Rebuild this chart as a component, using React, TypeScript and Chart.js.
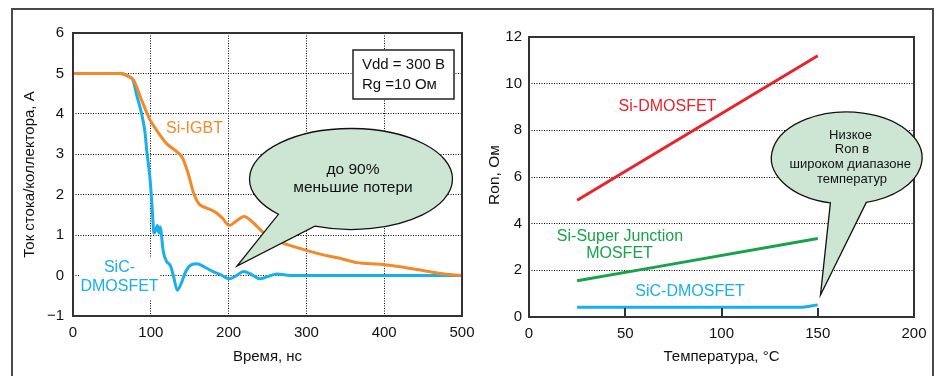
import React, { useEffect, useRef } from 'react';
import { Chart, registerables } from 'chart.js';
Chart.register(...registerables);

const FONT = "'Liberation Sans', Arial, sans-serif";
const ORANGE = '#F28A2A';
const BLUE = '#19AFE8';
const RED = '#E8232B';
const GREEN = '#18A24C';
const BUBBLE = '#CDE6D4';
const INK = '#111111';

// ---- Left chart: switching current vs time ----
const igbtTime = [0, 60, 66, 72, 78, 88, 99, 108, 120, 133, 140, 148, 155, 162, 172, 180, 185, 192, 201, 210, 220, 232, 245, 258, 270, 292, 318, 340, 365, 395, 420, 442, 472, 500];
const igbtCurrent = [5, 5, 4.98, 4.92, 4.83, 4.35, 3.85, 3.58, 3.27, 3.07, 2.94, 2.53, 2.04, 1.77, 1.67, 1.6, 1.54, 1.42, 1.24, 1.35, 1.46, 1.3, 1.06, 0.92, 0.8, 0.67, 0.53, 0.44, 0.32, 0.28, 0.22, 0.15, 0.05, 0];
const sicTime = [0, 60, 66, 72, 77, 82, 88, 92.5, 95, 99, 102, 104, 106, 108.5, 110.5, 112, 116, 120, 125, 129, 134, 139, 144, 150, 159, 170, 180, 190, 201, 210, 219, 230, 240, 251, 262, 280, 500];
const sicCurrent = [5, 5, 4.98, 4.92, 4.84, 4.45, 4.02, 3.55, 3.05, 2.4, 1.6, 1.05, 1.1, 1.24, 1.05, 1.2, 0.6, 0.36, 0.25, 0.0, -0.36, -0.2, 0.06, 0.24, 0.29, 0.2, 0.1, 0.02, -0.08, 0.0, 0.1, 0.02, -0.08, -0.02, 0.04, 0, 0];

// ---- Right chart: Ron vs temperature ----
const siDmosTemp = [25, 150];
const siDmosRon = [5.0, 11.2];
const sjTemp = [25, 150];
const sjRon = [1.55, 3.36];
const sicDmosTemp = [25, 142, 150];
const sicDmosRon = [0.42, 0.42, 0.52];
const rightTempTicks = [50, 100, 150];

const toPts = (xs: number[], ys: number[]) => xs.map((x, i) => ({ x, y: ys[i] }));

function text(ctx: CanvasRenderingContext2D, s: string, x: number, y: number, color: string, size: number, align: CanvasTextAlign = 'center', rot = 0) {
  ctx.save();
  ctx.font = `${size}px ${FONT}`;
  ctx.fillStyle = color;
  ctx.textAlign = align;
  ctx.textBaseline = 'middle';
  ctx.translate(x, y);
  if (rot) ctx.rotate(rot);
  ctx.fillText(s, 0, 0);
  ctx.restore();
}

function callout(ctx: CanvasRenderingContext2D, cx: number, cy: number, rx: number, ry: number, b1: number[], b2: number[], tip: number[]) {
  const a1 = Math.atan2((b1[1] - cy) / ry, (b1[0] - cx) / rx);
  const a2 = Math.atan2((b2[1] - cy) / ry, (b2[0] - cx) / rx);
  ctx.save();
  ctx.beginPath();
  ctx.ellipse(cx, cy, rx, ry, 0, a1, a2, false);
  ctx.lineTo(tip[0], tip[1]);
  ctx.closePath();
  ctx.fillStyle = BUBBLE;
  ctx.fill();
  ctx.lineWidth = 1.3;
  ctx.strokeStyle = '#111';
  ctx.lineJoin = 'miter';
  ctx.stroke();
  ctx.restore();
}

function frame(chart: any) {
  const { ctx, chartArea: a } = chart;
  ctx.save();
  ctx.strokeStyle = '#333';
  ctx.lineWidth = 2;
  ctx.strokeRect(a.left, a.top, a.right - a.left, a.bottom - a.top);
  ctx.restore();
}

const leftDecor = {
  id: 'leftDecor',
  beforeDatasetsDraw(chart: any) {
    const ctx = chart.ctx as CanvasRenderingContext2D;
    ctx.save();
    ctx.fillStyle = '#fff';
    ctx.fillRect(80, 257, 79, 43);
    ctx.restore();
    text(ctx, 'SiC-', 119.5, 268, BLUE, 16);
    text(ctx, 'DMOSFET', 119.5, 287, BLUE, 16);
    text(ctx, 'Si-IGBT', 194.5, 129, ORANGE, 16);
  },
  afterDatasetsDraw(chart: any) {
    const ctx = chart.ctx as CanvasRenderingContext2D;
    const a = chart.chartArea;
    frame(chart);
    text(ctx, 'Время, нс', (a.left + a.right) / 2, 357, INK, 15);
    text(ctx, 'Ток стока/коллектора, А', 30, (a.top + a.bottom) / 2, INK, 15, 'center', -Math.PI / 2);
    ctx.save();
    ctx.fillStyle = '#fff';
    ctx.fillRect(353, 50, 101, 49);
    ctx.strokeStyle = '#222';
    ctx.lineWidth = 1.5;
    ctx.strokeRect(353, 50, 101, 49);
    ctx.restore();
    text(ctx, 'Vdd = 300 В', 362, 64.5, INK, 15, 'left');
    text(ctx, 'Rg =10 Ом', 362, 85, INK, 15, 'left');
    callout(ctx, 351, 179, 101.5, 50.5, [279, 214], [315, 226], [237, 266]);
    text(ctx, 'до 90%', 353, 170, INK, 15.5);
    text(ctx, 'меньшие потери', 353, 188, INK, 15.5);
  },
};

const rightDecor = {
  id: 'rightDecor',
  beforeDatasetsDraw(chart: any) {
    const ctx = chart.ctx as CanvasRenderingContext2D;
    text(ctx, 'Si-DMOSFET', 197.5, 107, RED, 16);
    text(ctx, 'Si-Super Junction', 150, 237, GREEN, 16);
    text(ctx, 'MOSFET', 149.5, 254, GREEN, 16);
    text(ctx, 'SiC-DMOSFET', 220, 292, BLUE, 16);
  },
  afterDatasetsDraw(chart: any) {
    const ctx = chart.ctx as CanvasRenderingContext2D;
    const a = chart.chartArea;
    const xs = chart.scales.x;
    ctx.save();
    ctx.strokeStyle = '#333';
    ctx.lineWidth = 2;
    rightTempTicks.forEach((t) => {
      const px = Math.round(xs.getPixelForValue(t));
      ctx.beginPath();
      ctx.moveTo(px, a.bottom);
      ctx.lineTo(px, a.bottom - 9);
      ctx.stroke();
    });
    ctx.restore();
    frame(chart);
    text(ctx, 'Температура, °C', (a.left + a.right) / 2, 357, INK, 15);
    text(ctx, 'Ron, Ом', 25, 175, INK, 15.5, 'center', -Math.PI / 2);
    callout(ctx, 376.7, 158, 75.3, 46, [360, 204], [397, 204], [350.5, 295]);
    text(ctx, 'Низкое', 380.5, 135, INK, 13);
    text(ctx, 'Ron в', 382, 149.5, INK, 13);
    text(ctx, 'широком диапазоне', 380.3, 164.3, INK, 13);
    text(ctx, 'температур', 382, 179.3, INK, 13);
  },
};

const tickFont = { family: FONT, size: 15 };

export default function App() {
  const leftRef = useRef<HTMLCanvasElement>(null);
  const rightRef = useRef<HTMLCanvasElement>(null);

  useEffect(() => {
    document.body.style.margin = '0';
    const line = (data: any, color: string) => ({
      data,
      borderColor: color,
      backgroundColor: color,
      borderWidth: 3,
      pointRadius: 0,
      fill: false,
      cubicInterpolationMode: 'monotone' as const,
    });

    const left = new Chart(leftRef.current!, {
      type: 'line',
      data: {
        datasets: [line(toPts(igbtTime, igbtCurrent), ORANGE), line(toPts(sicTime, sicCurrent), BLUE)],
      },
      options: {
        responsive: false,
        animation: false,
        devicePixelRatio: 1,
        layout: { padding: { left: 0, top: 33, right: 28, bottom: 0 } },
        plugins: { legend: { display: false }, tooltip: { enabled: false } },
        scales: {
          x: {
            type: 'linear',
            min: 0,
            max: 500,
            ticks: { stepSize: 100, padding: 8, color: INK, font: tickFont, maxRotation: 0 },
            grid: { color: '#000', lineWidth: 1, drawTicks: false, tickLength: 0 },
            border: { display: false, dash: [1, 1.5] },
            title: { display: false },
            afterFit: (s: any) => { s.height = 60; s.paddingLeft = 0; s.paddingRight = 0; },
          },
          y: {
            type: 'linear',
            min: -1,
            max: 6,
            ticks: {
              stepSize: 1,
              padding: 9,
              color: INK,
              font: tickFont,
              callback: (v: any) => (v < 0 ? '\u2212' + Math.abs(v) : String(v)),
            },
            grid: { color: '#000', lineWidth: 1, drawTicks: false, tickLength: 0 },
            border: { display: false, dash: [1, 1.5] },
            title: { display: false },
            afterFit: (s: any) => { s.width = 73; },
          },
        },
      } as any,
      plugins: [leftDecor],
    });

    const right = new Chart(rightRef.current!, {
      type: 'line',
      data: {
        datasets: [
          line(toPts(siDmosTemp, siDmosRon), RED),
          line(toPts(sjTemp, sjRon), GREEN),
          line(toPts(sicDmosTemp, sicDmosRon), BLUE),
        ],
      },
      options: {
        responsive: false,
        animation: false,
        devicePixelRatio: 1,
        layout: { padding: { left: 0, top: 37, right: 25, bottom: 0 } },
        plugins: { legend: { display: false }, tooltip: { enabled: false } },
        scales: {
          x: {
            type: 'linear',
            min: 0,
            max: 200,
            ticks: { stepSize: 50, padding: 8, color: INK, font: tickFont, maxRotation: 0 },
            grid: { display: false, drawTicks: false, tickLength: 0 },
            border: { display: false },
            title: { display: false },
            afterFit: (s: any) => { s.height = 59; s.paddingLeft = 0; s.paddingRight = 0; },
          },
          y: {
            type: 'linear',
            min: 0,
            max: 12,
            ticks: { stepSize: 2, padding: 7, color: INK, font: tickFont },
            grid: { color: '#000', lineWidth: 1, drawTicks: false, tickLength: 0 },
            border: { display: false, dash: [1, 1.5] },
            title: { display: false },
            afterFit: (s: any) => { s.width = 59; },
          },
        },
      } as any,
      plugins: [rightDecor],
    });

    return () => {
      left.destroy();
      right.destroy();
    };
  }, []);

  return (
    <div style={{ position: 'relative', width: 939, height: 376, overflow: 'hidden', background: '#fff' }}>
      <div
        style={{
          position: 'absolute',
          left: 11,
          top: 8,
          width: 923,
          height: 420,
          border: '2px solid #4a4a4a',
          boxSizing: 'border-box',
        }}
      />
      <canvas ref={leftRef} width={490} height={376} style={{ position: 'absolute', left: 0, top: 0, width: 490, height: 376 }} />
      <canvas ref={rightRef} width={469} height={376} style={{ position: 'absolute', left: 470, top: 0, width: 469, height: 376 }} />
    </div>
  );
}
